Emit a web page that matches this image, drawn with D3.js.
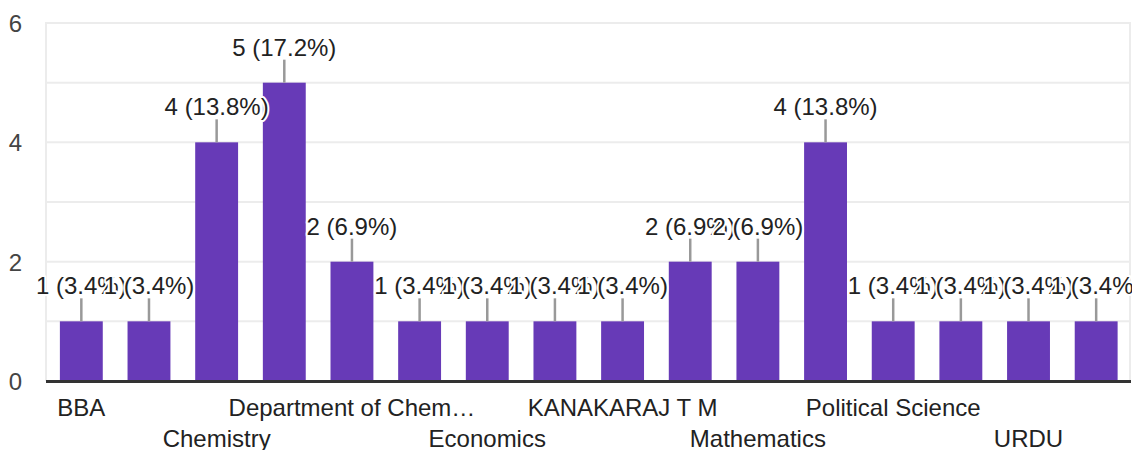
<!DOCTYPE html>
<html><head><meta charset="utf-8">
<script src="https://cdn.jsdelivr.net/npm/d3@7"></script>
<style>html,body{margin:0;padding:0;background:#fff;}svg{display:block;}</style>
</head><body>
<svg id="chart" width="1132" height="450"></svg>
<script>
const categories = ["BBA","Botany","Chemistry","Commerce","Department of Chemistry","Department of English","Economics","English","KANAKARAJ T M","Management","Mathematics","Physics","Political Science","Tamil","URDU","Zoology"];
const counts = [1,1,4,5,2,1,1,1,1,2,2,4,1,1,1,1];
const yTicks = [0,2,4,6];
const gridValues = [0,1,2,3,4,5,6];

const W = 1132, H = 450;
const font = "Liberation Sans, Arial, sans-serif";
const svg = d3.select("#chart");
const total = d3.sum(counts);

const x = d3.scaleBand().domain(d3.range(categories.length)).range([47.5, 1130]).paddingInner(0.366).paddingOuter(0.183);
const y = d3.scaleLinear().domain([0, 6]).range([381, 23]);

// grid
svg.append("g").selectAll("line").data(gridValues.filter(v => v > 0)).join("line")
  .attr("x1", 45).attr("x2", 1131).attr("y1", d => y(d)).attr("y2", d => y(d))
  .attr("stroke", "#ececec").attr("stroke-width", 2);
// frame sides
svg.append("g").selectAll("line").data([46, 1130]).join("line")
  .attr("x1", d => d).attr("x2", d => d).attr("y1", y(6) - 1).attr("y2", y(0))
  .attr("stroke", "#ececec").attr("stroke-width", 2);

// y axis tick labels
const yAxis = d3.axisLeft(y).tickValues(yTicks).tickFormat(d3.format("d")).tickSize(0).tickPadding(0);
const ya = svg.append("g").attr("transform", "translate(22,0)").call(yAxis);
ya.select(".domain").remove();
ya.selectAll("text").attr("font-family", font).attr("font-size", 24).attr("fill", "#444").attr("dy", "0.35em");

// bars
svg.append("g").selectAll("rect").data(counts).join("rect")
  .attr("x", (d, i) => x(i)).attr("width", x.bandwidth())
  .attr("y", d => y(d)).attr("height", d => y(0) - y(d))
  .attr("fill", "#673ab7");

// baseline
svg.append("line").attr("x1", 46).attr("x2", 1131).attr("y1", y(0) + 0.5).attr("y2", y(0) + 0.5)
  .attr("stroke", "#333").attr("stroke-width", 3);

// leader lines
svg.append("g").selectAll("line").data(counts).join("line")
  .attr("x1", (d, i) => x(i) + x.bandwidth() / 2).attr("x2", (d, i) => x(i) + x.bandwidth() / 2)
  .attr("y1", d => y(d)).attr("y2", d => y(d) - 23)
  .attr("stroke", "#999").attr("stroke-width", 2.5);

// value labels with halo
const fmt = d => d + " (" + (d / total * 100).toFixed(1) + "%)";
const lg = svg.append("g");
counts.forEach((d, i) => {
  lg.append("text")
    .attr("x", x(i) + x.bandwidth() / 2).attr("y", y(d) - 27)
    .attr("text-anchor", "middle").attr("font-family", font).attr("font-size", 24)
    .attr("fill", "#222").attr("stroke", "#fff").attr("stroke-width", 4)
    .attr("stroke-linejoin", "round").attr("paint-order", "stroke")
    .text(fmt(d));
});

// x labels, every other, staggered
const xg = svg.append("g");
function truncate(sel, maxW) {
  const node = sel.node();
  let full = sel.text();
  if (node.getComputedTextLength() <= maxW) return;
  let t = full;
  while (t.length > 0) {
    t = t.slice(0, -1);
    sel.text(t + "\u2026");
    if (node.getComputedTextLength() <= maxW) break;
  }
}
categories.forEach((c, i) => {
  if (i % 2 !== 0) return;
  const row = (i / 2) % 2;
  const t = xg.append("text")
    .attr("x", x(i) + x.bandwidth() / 2).attr("y", row === 0 ? 416 : 447)
    .attr("text-anchor", "middle").attr("font-family", font).attr("font-size", 24)
    .attr("fill", "#222").text(c);
  truncate(t, 250);
});
</script>
</body></html>
